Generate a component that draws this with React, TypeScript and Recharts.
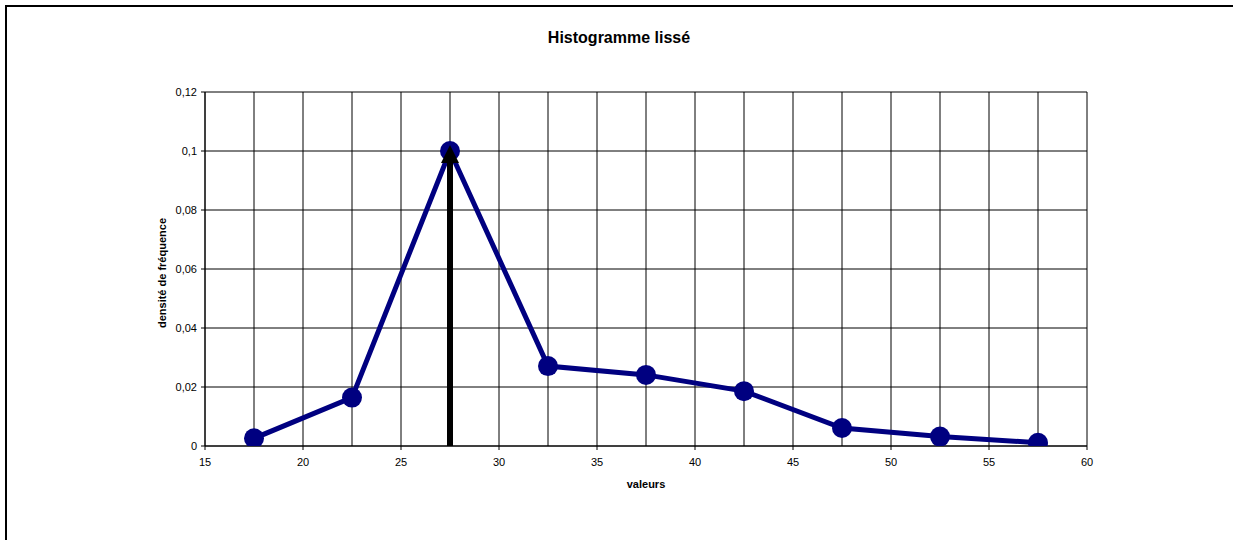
import React from 'react';
import { ComposedChart, Line, XAxis, YAxis, CartesianGrid, Label } from 'recharts';

const xValues = [17.5, 22.5, 27.5, 32.5, 37.5, 42.5, 47.5, 52.5, 57.5];
const densities = [0.0026, 0.0164, 0.1, 0.0271, 0.0241, 0.0186, 0.0061, 0.0032, 0.0011];
const gridTicks = [15, 17.5, 20, 22.5, 25, 27.5, 30, 32.5, 35, 37.5, 40, 42.5, 45, 47.5, 50, 52.5, 55, 57.5, 60];
const yTicks = [0, 0.02, 0.04, 0.06, 0.08, 0.1, 0.12];
const arrowX = [27.5, 27.5];
const arrowY = [0, 0.1];

const seriesData = xValues.map((x, i) => ({ x, y: densities[i] }));
const arrowData = arrowX.map((x, i) => ({ x, y: arrowY[i] }));

const FONT = 'Arial, "Liberation Sans", sans-serif';

const XTick = (props: any) => {
  const { x, y, payload } = props;
  const v = payload.value;
  if (v % 5 !== 0) return <g />;
  return (
    <g>
      <line x1={x} x2={x} y1={y - 12} y2={y - 8} stroke="#000" strokeWidth={1} />
      <text x={x} y={y} dy="0.71em" textAnchor="middle" fontSize={11} fontFamily={FONT} fill="#000">
        {String(v)}
      </text>
    </g>
  );
};

const YLabel = (props: any) => {
  const vb = props.viewBox || {};
  const cx = vb.x + 17;
  const cy = vb.y + vb.height / 2 + 4;
  return (
    <text
      x={cx}
      y={cy}
      transform={`rotate(-90, ${cx}, ${cy})`}
      textAnchor="middle"
      dominantBaseline="central"
      fontSize={11}
      fontWeight="bold"
      fontFamily={FONT}
      fill="#000"
    >
      densité de fréquence
    </text>
  );
};

const ArrowHead = (props: any) => {
  const { cx, cy, index } = props;
  if (index !== 1 || cx == null || cy == null) return <g key={`a${index}`} />;
  return (
    <path
      key={`a${index}`}
      d={`M ${cx} ${cy - 6} L ${cx + 9} ${cy + 12} L ${cx - 9} ${cy + 12} Z`}
      fill="#000"
      stroke="none"
    />
  );
};

export default function App() {
  return (
    <div
      style={{
        position: 'fixed',
        left: 0,
        top: 0,
        width: 1233,
        height: 540,
        overflow: 'hidden',
        background: '#fff',
      }}
    >
      <div
        style={{
          position: 'absolute',
          left: 5,
          top: 5,
          width: 1400,
          height: 700,
          borderTop: '2px solid #000',
          borderLeft: '2px solid #000',
        }}
      />
      <div
        style={{
          position: 'absolute',
          left: 619,
          top: 30,
          transform: 'translateX(-50%)',
          whiteSpace: 'nowrap',
          fontFamily: FONT,
          fontWeight: 'bold',
          fontSize: 16,
          lineHeight: '16px',
          color: '#000',
        }}
      >
        Histogramme lissé
      </div>
      <div style={{ position: 'absolute', left: 0, top: 0 }}>
        <ComposedChart
          width={1233}
          height={540}
          margin={{ top: 92, right: 146, bottom: 64, left: 145 }}
        >
          <CartesianGrid stroke="#000" strokeWidth={1} />
          <XAxis
            dataKey="x"
            type="number"
            domain={[15, 60]}
            ticks={gridTicks}
            interval={0}
            allowDataOverflow
            height={30}
            tickLine={false}
            tickSize={4}
            tickMargin={8}
            tick={<XTick />}
            axisLine={{ stroke: '#000', strokeWidth: 1 }}
          >
            <Label
              value="valeurs"
              position="bottom"
              offset={4}
              fontSize={11}
              fontWeight="bold"
              fontFamily={FONT}
              fill="#000"
            />
          </XAxis>
          <YAxis
            dataKey="y"
            type="number"
            domain={[0, 0.12]}
            ticks={yTicks}
            interval={0}
            allowDataOverflow
            width={60}
            tickSize={4}
            tickMargin={4}
            tickLine={{ stroke: '#000', strokeWidth: 1 }}
            axisLine={{ stroke: '#000', strokeWidth: 1 }}
            tick={{ fontSize: 11, fill: '#000', fontFamily: FONT }}
            tickFormatter={(v: number) => String(v).replace('.', ',')}
          >
            <Label content={<YLabel />} />
          </YAxis>
          <Line
            data={seriesData}
            dataKey="y"
            type="linear"
            stroke="#000080"
            strokeWidth={5}
            dot={{ r: 10, fill: '#000080', stroke: '#000080', strokeWidth: 0 }}
            activeDot={false}
            isAnimationActive={false}
          />
          <Line
            data={arrowData}
            dataKey="y"
            type="linear"
            stroke="#000"
            strokeWidth={6}
            dot={<ArrowHead />}
            activeDot={false}
            isAnimationActive={false}
          />
        </ComposedChart>
      </div>
    </div>
  );
}
